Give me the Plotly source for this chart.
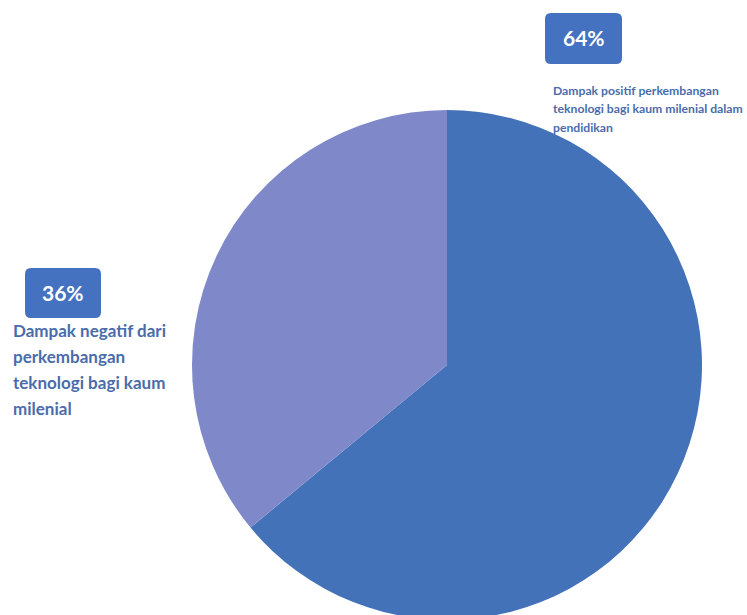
import plotly.graph_objects as go

# ---- data ----
labels = ["Dampak positif perkembangan teknologi bagi kaum milenial dalam pendidikan",
          "Dampak negatif dari perkembangan teknologi bagi kaum milenial"]
values = [64, 36]
pct_text = ["64%", "36%"]
label_lines = [
    ["Dampak positif perkembangan", "teknologi bagi kaum milenial dalam", "pendidikan"],
    ["Dampak negatif dari", "perkembangan", "teknologi bagi kaum", "milenial"],
]

# ---- styling / layout ----
W, H = 747, 640
slice_colors = ["#4472b9", "#7f88c9"]
box_color = "#4472c0"
text_color = "#4a6cab"
FONT = "Lato"

def px(x):
    return x / W

def py(y):
    return (H - y) / H

def rounded_rect(x0, y0, x1, y1, r):
    pts = [
        f"M {px(x0 + r)},{py(y0)}",
        f"L {px(x1 - r)},{py(y0)}",
        f"Q {px(x1)},{py(y0)} {px(x1)},{py(y0 + r)}",
        f"L {px(x1)},{py(y1 - r)}",
        f"Q {px(x1)},{py(y1)} {px(x1 - r)},{py(y1)}",
        f"L {px(x0 + r)},{py(y1)}",
        f"Q {px(x0)},{py(y1)} {px(x0)},{py(y1 - r)}",
        f"L {px(x0)},{py(y0 + r)}",
        f"Q {px(x0)},{py(y0)} {px(x0 + r)},{py(y0)}",
        "Z",
    ]
    return " ".join(pts)

cx, cy, R = 447, 365, 255

fig = go.Figure(go.Pie(
    labels=labels,
    values=values,
    sort=False,
    direction="clockwise",
    rotation=0,
    marker=dict(colors=slice_colors, line=dict(width=0)),
    textinfo="none",
    hoverinfo="label+percent",
    domain=dict(x=[px(cx - R), px(cx + R)], y=[py(cy + R), py(cy - R)]),
    showlegend=False,
))

# label boxes and texts
boxes = [(545, 13, 622, 64), (25, 268, 101, 318)]
line_cfg = [
    dict(x=551, y0=90, dy=18.5, size=12.2),
    dict(x=11, y0=330, dy=26.3, size=17),
]

shapes = []
annotations = []
for i in range(len(values)):
    x0, y0, x1, y1 = boxes[i]
    shapes.append(dict(type="path", xref="paper", yref="paper",
                       path=rounded_rect(x0, y0, x1, y1, 6),
                       fillcolor=box_color, line=dict(width=0)))
    annotations.append(dict(
        x=px((x0 + x1) / 2), y=py((y0 + y1) / 2 - 1), xref="paper", yref="paper",
        text=f"<b>{pct_text[i]}</b>", showarrow=False,
        xanchor="center", yanchor="middle",
        font=dict(family=FONT, size=21, color="white")))
    cfg = line_cfg[i]
    for j, line in enumerate(label_lines[i]):
        annotations.append(dict(
            x=px(cfg["x"]), y=py(cfg["y0"] + j * cfg["dy"]), xref="paper", yref="paper",
            text=f"<b>{line}</b>", showarrow=False,
            xanchor="left", yanchor="middle",
            font=dict(family=FONT, size=cfg["size"], color=text_color)))

fig.update_layout(
    width=W, height=H,
    margin=dict(l=0, r=0, t=0, b=0),
    paper_bgcolor="white",
    plot_bgcolor="white",
    shapes=shapes,
    annotations=annotations,
)

fig.write_html("out.html",
               post_script="document.body.style.overflow='hidden';document.documentElement.style.overflow='hidden';document.body.style.margin='0';")
